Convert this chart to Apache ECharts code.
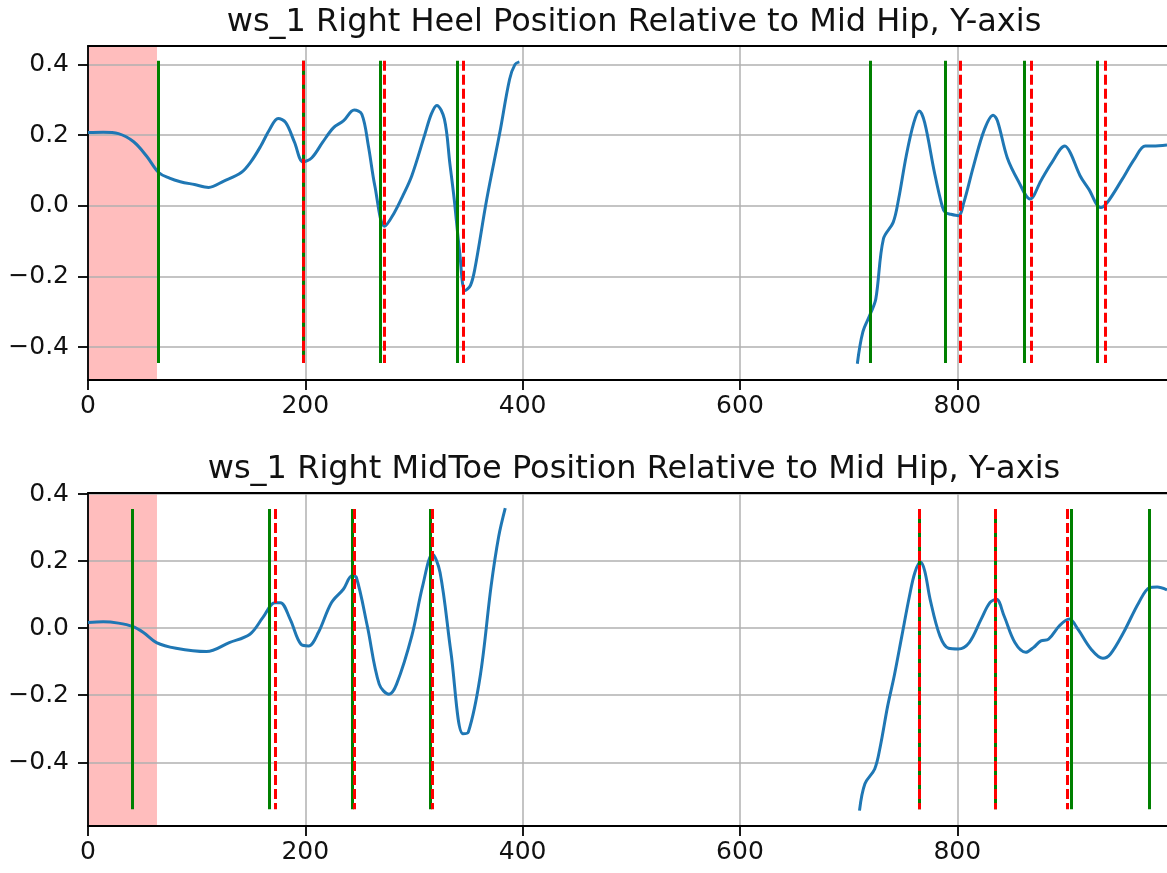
<!DOCTYPE html>
<html>
<head>
<meta charset="utf-8">
<script src="https://cdn.jsdelivr.net/npm/echarts@6/dist/echarts.min.js"></script>
<style>html,body{margin:0;padding:0;background:#fff}#c{width:1167px;height:873px}</style>
</head>
<body>
<div id="c"></div>
<script>
// ---- data ----
const titles = [
  'ws_1 Right Heel Position Relative to Mid Hip, Y-axis',
  'ws_1 Right MidToe Position Relative to Mid Hip, Y-axis'
];
const xTicks = [0, 200, 400, 600, 800];
const yTicks = [-0.4, -0.2, 0.0, 0.2, 0.4];
const xRange = [0, 993];
const heelYRange = [-0.493, 0.452];
const toeYRange = [-0.59, 0.403];
const shadeSpan = [0, 63.5];

const heelPart1 = [[0,0.207],[14,0.208],[28,0.204],[42,0.181],[54,0.14],[65,0.094],[75,0.078],[85,0.068],[98,0.06],[111,0.052],[125,0.07],[141,0.094],[150,0.125],[159,0.169],[167,0.215],[175,0.247],[182,0.235],[190,0.18],[198,0.124],[206,0.136],[216,0.18],[226,0.221],[235,0.24],[245,0.271],[252,0.259],[258,0.17],[264,0.056],[273,-0.058],[282,-0.019],[290,0.03],[298,0.085],[310,0.202],[316,0.26],[321,0.284],[328,0.245],[333,0.12],[337,0.019],[342,-0.13],[347,-0.24],[352,-0.225],[356,-0.179],[367,0.019],[379,0.207],[388,0.358],[393,0.4],[397,0.407]];
const heelPart2 = [[708,-0.447],[713,-0.358],[720,-0.306],[725,-0.264],[732,-0.094],[741,-0.047],[746,0.019],[753,0.141],[760,0.235],[765,0.268],[770,0.235],[779,0.094],[786,0.0],[789,-0.019],[794,-0.024],[801,-0.028],[806,0.009],[815,0.113],[825,0.216],[833,0.256],[837,0.24],[846,0.136],[856,0.071],[867,0.019],[877,0.071],[887,0.122],[899,0.169],[904,0.15],[913,0.085],[921,0.047],[932,-0.005],[938,0.009],[951,0.071],[963,0.132],[973,0.169],[980,0.169],[993,0.172]];
const heelGreen = [64.5, 198, 269, 340, 720, 789, 862, 929];
const heelRed = [198, 273, 345, 803, 868, 936];
const heelLineSpan = [0.41, -0.445];

const toePart1 = [[0,0.017],[14,0.019],[28,0.015],[41,0.005],[51,-0.013],[63,-0.043],[81,-0.06],[109,-0.07],[130,-0.043],[149,-0.018],[161,0.032],[172,0.076],[177,0.076],[186,0.027],[196,-0.048],[203,-0.053],[212,-0.013],[224,0.076],[235,0.116],[243,0.156],[247,0.151],[257,0.007],[268,-0.167],[277,-0.197],[284,-0.167],[298,-0.023],[308,0.126],[317,0.22],[324,0.166],[334,-0.072],[345,-0.315],[350,-0.31],[361,-0.142],[371,0.126],[378,0.274],[384,0.358]];
const toePart2 = [[710,-0.544],[715,-0.464],[724,-0.42],[729,-0.355],[736,-0.231],[742,-0.142],[749,-0.023],[756,0.096],[761,0.166],[766,0.197],[770,0.171],[775,0.086],[784,-0.023],[792,-0.06],[801,-0.062],[811,-0.043],[822,0.027],[830,0.076],[836,0.086],[843,0.037],[853,-0.043],[863,-0.072],[870,-0.058],[877,-0.038],[884,-0.033],[894,0.007],[903,0.027],[911,-0.003],[923,-0.062],[934,-0.09],[941,-0.077],[953,-0.013],[967,0.076],[977,0.121],[984,0.123],[993,0.114]];
const toeGreen = [41, 167, 243, 315, 765, 834.5, 905, 977];
const toeRed = [172.5, 245, 316.5, 765, 834.5, 901];
const toeLineSpan = [0.355, -0.54];

// ---- chart ----
const FONT = 'DejaVu Sans';
const TICK_FS = 25;
const TITLE_FS = 32;
const grids = [
  {left: 88, top: 46, width: 1082, height: 334},
  {left: 88, top: 493, width: 1082, height: 333}
];
const fmtY = v => { const s = Math.abs(v) < 1e-9 ? '0.0' : v.toFixed(1); return s.replace('-', '\u2212'); };
const spine = {color: '#000', width: 1.8};

function xAxes(i) {
  return [{
    type: 'value', gridIndex: i, min: xRange[0], max: xRange[1], interval: 200,
    axisLine: {show: true, onZero: false, lineStyle: spine},
    axisTick: {show: true, length: 10, inside: false, customValues: xTicks, lineStyle: spine},
    axisLabel: {show: true, customValues: xTicks, margin: 14, fontFamily: FONT, fontSize: TICK_FS, color: '#111'},
    splitLine: {show: true, lineStyle: {color: '#b0b0b0', width: 1.5}},
    z: 3
  }, {
    type: 'value', gridIndex: i, position: 'top', min: xRange[0], max: xRange[1],
    axisLine: {show: true, onZero: false, lineStyle: spine},
    axisTick: {show: false}, axisLabel: {show: false}, splitLine: {show: false}, z: 3
  }];
}
function yAxis(i, r) {
  return {
    type: 'value', gridIndex: i, min: r[0], max: r[1],
    axisLine: {show: true, onZero: false, lineStyle: spine},
    axisTick: {show: true, length: 10, customValues: yTicks, lineStyle: spine},
    axisLabel: {show: true, customValues: yTicks, formatter: fmtY, margin: 19, fontFamily: FONT, fontSize: TICK_FS, color: '#111'},
    splitLine: {show: true, lineStyle: {color: '#b0b0b0', width: 1.5}},
    z: 3
  };
}

function vlines(xs, span, color, dashed, xi, yi) {
  return {
    type: 'line', xAxisIndex: xi, yAxisIndex: yi, data: [], silent: true, z: dashed ? 5 : 4,
    markLine: {
      silent: true, animation: false, symbol: ['none', 'none'],
      label: {show: false},
      lineStyle: {color: color, width: 3, type: dashed ? [10, 4] : 'solid', opacity: 1},
      emphasis: {disabled: true},
      data: xs.map(x => [{coord: [x, span[0]]}, {coord: [x, span[1]]}])
    }
  };
}
function curve(pts, xi, yi) {
  return {
    type: 'line', xAxisIndex: xi, yAxisIndex: yi, data: pts, showSymbol: false, symbol: 'none',
    smooth: 0.35, lineStyle: {color: '#1f77b4', width: 3}, z: 3, silent: true
  };
}
function shade(xi, yi, r) {
  return {
    type: 'line', xAxisIndex: xi, yAxisIndex: yi, data: [], z: -1, silent: true,
    markArea: {
      silent: true, animation: false,
      itemStyle: {color: 'rgba(255,0,0,0.26)'},
      data: [[{coord: [shadeSpan[0], r[0]]}, {coord: [shadeSpan[1], r[1]]}]]
    }
  };
}

const option = {
  animation: false,
  backgroundColor: '#fff',
  title: [
    {text: titles[0], left: 629, top: 2, textAlign: 'center', textStyle: {fontFamily: FONT, fontSize: TITLE_FS, fontWeight: 'normal', color: '#111'}},
    {text: titles[1], left: 629, top: 449, textAlign: 'center', textStyle: {fontFamily: FONT, fontSize: TITLE_FS, fontWeight: 'normal', color: '#111'}}
  ],
  grid: grids,
  xAxis: [...xAxes(0), ...xAxes(1)],
  yAxis: [yAxis(0, heelYRange), yAxis(1, toeYRange)],
  series: [
    shade(0, 0, heelYRange),
    curve(heelPart1, 0, 0), curve(heelPart2, 0, 0),
    vlines(heelGreen, heelLineSpan, '#008000', false, 0, 0),
    vlines(heelRed, heelLineSpan, '#ff0000', true, 0, 0),
    shade(2, 1, toeYRange),
    curve(toePart1, 2, 1), curve(toePart2, 2, 1),
    vlines(toeGreen, toeLineSpan, '#008000', false, 2, 1),
    vlines(toeRed, toeLineSpan, '#ff0000', true, 2, 1)
  ]
};
const chart = echarts.init(document.getElementById('c'), null, {renderer: 'canvas'});
chart.setOption(option);
</script>
</body>
</html>
